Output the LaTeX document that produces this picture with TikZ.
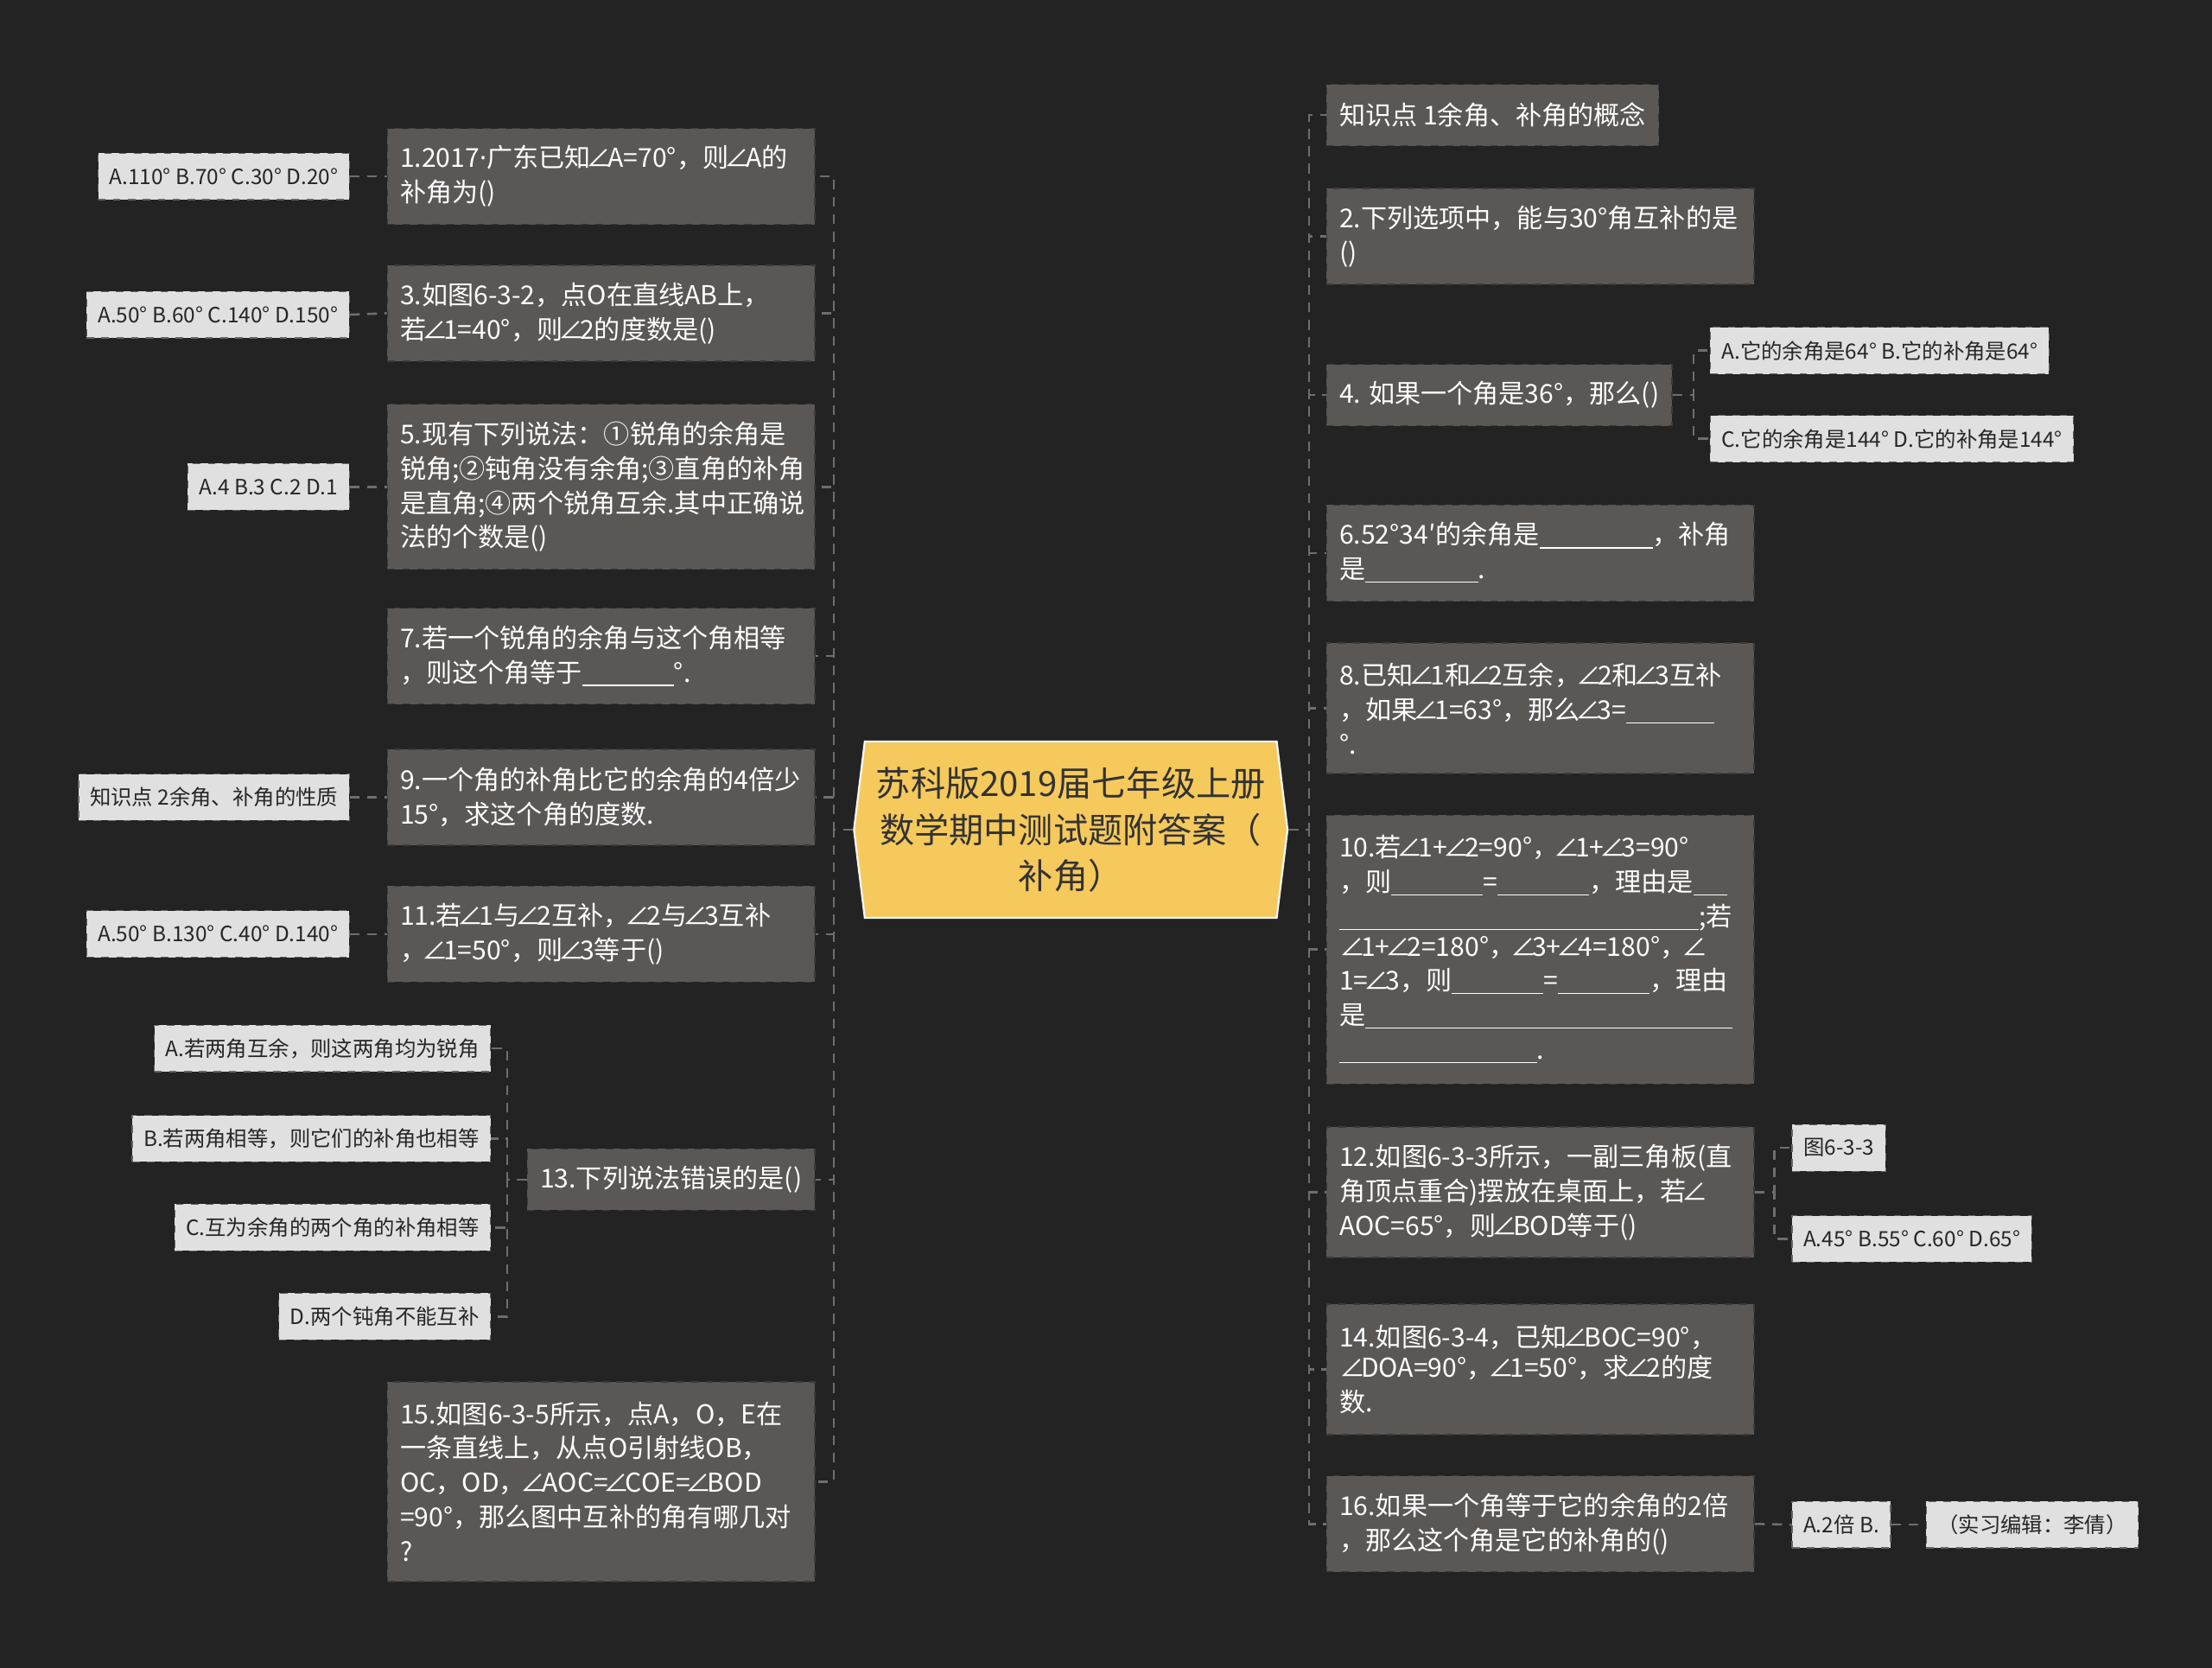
\documentclass[tikz,border=0pt]{standalone}
\usepackage{fontspec}
\setmainfont{Noto Sans CJK SC}
\newfontfamily\latinfont{Noto Sans}
\usetikzlibrary{shapes.symbols, calc}

\definecolor{bgdark}{HTML}{232323}
\definecolor{qfill}{HTML}{5A5755}
\definecolor{leaffill}{HTML}{E0E0E0}
\definecolor{hubfill}{HTML}{F5C95C}
\definecolor{linkgray}{HTML}{6E6E6E}

\newcommand{\fillblank}[1]{\underline{\hspace{#1}}}
\newcommand{\angsym}{\kern-0.17em∠\kern-0.17em}

\begin{document}
\begin{tikzpicture}[
  x=0.02cm, y=-0.02cm,
  hub/.style={signal, signal to=west and east, signal pointer angle=166, draw=white!92!gray, line width=0.8pt,
    fill=hubfill, text=black!80, align=center, text width=5.6cm, inner xsep=0.12cm, minimum height=2.5cm,
    font=\fontsize{14pt}{18.5pt}\selectfont},
  q/.style={draw=bgdark!55!qfill, dashed, line width=0.5pt, fill=qfill, text=white, align=left,
    inner xsep=0.18cm, inner ysep=0.18cm, minimum height=#1*0.49cm+0.38cm,
    font=\fontsize{10.5pt}{13.9pt}\selectfont},
  q/.default=1,
  qw/.style={q=#1, text width=5.7cm},
  qw/.default=1,
  leaf/.style={draw=black!60, dashed, line width=0.4pt, fill=leaffill, text=black!85,
    inner xsep=0.16cm, minimum height=0.66cm, font=\fontsize{8.5pt}{10pt}\selectfont},
  link/.style={draw=linkgray, line width=0.9pt, dash pattern=on 4pt off 3pt}
]

% page and background
\useasboundingbox (0,0) rectangle (1568,1182);
\fill[bgdark] (0,0) rectangle (1568,1182);

% central topic
\node[hub] (hub) at (759,588) {苏科版2019届七年级上册\\数学期中测试题附答案（\\补角）};

% left branch, questions
\node[qw=2, anchor=east] (q1) at (578,125) {1.2017{\latinfont ·}广东已知\angsym A=70°，则\angsym A的\\补角为()};
\node[qw=2, anchor=east] (q3) at (578,222) {3.如图6-3-2，点O在直线AB上，\\若\angsym 1=40°，则\angsym 2的度数是()};
\node[qw=4, anchor=east] (q5) at (578,345) {5.现有下列说法：①锐角的余角是\\锐角;②钝角没有余角;③直角的补角\\是直角;④两个锐角互余.其中正确说\\法的个数是()};
\node[qw=2, anchor=east] (q7) at (578,465) {7.若一个锐角的余角与这个角相等\\，则这个角等于\fillblank{1.3cm}°.};
\node[qw=2, anchor=east] (q9) at (578,565) {9.一个角的补角比它的余角的4倍少\\15°，求这个角的度数.};
\node[qw=2, anchor=east] (q11) at (578,662) {11.若\angsym 1与\angsym 2互补，\angsym 2与\angsym 3互补\\，\angsym 1=50°，则\angsym 3等于()};
\node[q, anchor=east] (q13) at (578,836) {13.下列说法错误的是()};
\node[qw=5, anchor=east] (q15) at (578,1050) {15.如图6-3-5所示，点A，O，E在\\一条直线上，从点O引射线OB，\\OC，OD，\angsym AOC=\angsym COE=\angsym BOD\\=90°，那么图中互补的角有哪几对\\?};

% left branch, answers
\node[leaf, anchor=east] (a1) at (248,125) {A.110° B.70° C.30° D.20°};
\node[leaf, anchor=east] (a3) at (248,223) {A.50° B.60° C.140° D.150°};
\node[leaf, anchor=east] (a5) at (248,345) {A.4 B.3 C.2 D.1};
\node[leaf, anchor=east] (a9) at (248,565) {知识点 2余角、补角的性质};
\node[leaf, anchor=east] (a11) at (248,662) {A.50° B.130° C.40° D.140°};
\node[leaf, anchor=east] (o1) at (348,743) {A.若两角互余，则这两角均为锐角};
\node[leaf, anchor=east] (o2) at (348,807) {B.若两角相等，则它们的补角也相等};
\node[leaf, anchor=east] (o3) at (348,870) {C.互为余角的两个角的补角相等};
\node[leaf, anchor=east] (o4) at (348,933) {D.两个钝角不能互补};

% right branch, questions
\node[q, anchor=west] (k1) at (940,81.5) {知识点 1余角、补角的概念};
\node[qw=2, anchor=west] (q2) at (940,167.5) {2.下列选项中，能与30°角互补的是\\()};
\node[q, anchor=west] (q4) at (940,280) {4. 如果一个角是36°，那么()};
\node[qw=2, anchor=west] (q6) at (940,392) {6.52°34′的余角是\fillblank{1.6cm}，补角\\是\fillblank{1.6cm}.};
\node[qw=3, anchor=west] (q8) at (940,502) {8.已知\angsym 1和\angsym 2互余，\angsym 2和\angsym 3互补\\，如果\angsym 1=63°，那么\angsym 3=\fillblank{1.25cm}\\°.};
\node[qw=7, anchor=west] (q10) at (940,673) {10.若\angsym 1+\angsym 2=90°，\angsym 1+\angsym 3=90°\\，则\fillblank{1.3cm}=\fillblank{1.3cm}，理由是\fillblank{0.48cm}\\\fillblank{5.1cm};若\\\angsym 1+\angsym 2=180°，\angsym 3+\angsym 4=180°，\angsym\\1=\angsym 3，则\fillblank{1.3cm}=\fillblank{1.3cm}，理由\\是\fillblank{5.2cm}\\\fillblank{2.8cm}.};
\node[qw=3, anchor=west] (q12) at (940,845) {12.如图6-3-3所示，一副三角板(直\\角顶点重合)摆放在桌面上，若\angsym\\AOC=65°，则\angsym BOD等于()};
\node[qw=3, anchor=west] (q14) at (940,970.5) {14.如图6-3-4，已知\angsym BOC=90°，\\\angsym DOA=90°，\angsym 1=50°，求\angsym 2的度\\数.};
\node[qw=2, anchor=west] (q16) at (940,1080) {16.如果一个角等于它的余角的2倍\\，那么这个角是它的补角的()};

% right branch, answers
\node[leaf, anchor=west] (b4a) at (1212,248.5) {A.它的余角是64° B.它的补角是64°};
\node[leaf, anchor=west] (b4c) at (1212,311) {C.它的余角是144° D.它的补角是144°};
\node[leaf, anchor=west] (b12a) at (1270,813.5) {图6-3-3};
\node[leaf, anchor=west] (b12b) at (1270,878) {A.45° B.55° C.60° D.65°};
\node[leaf, anchor=west] (b16a) at (1270,1080.5) {A.2倍 B.};
\node[leaf, anchor=west, minimum width=2.8cm] (b16b) at (1365,1080.5) {（实习编辑：李倩）};

% connectors
\coordinate (lt) at (591,588);
\coordinate (rt) at (928,588);
\foreach \n in {q1,q3,q5,q7,q9,q11,q13,q15}
  \draw[link] (hub.west) -- (lt) |- (\n.east);
\foreach \n in {k1,q2,q4,q6,q8,q10,q12,q14,q16}
  \draw[link] (hub.east) -- (rt) |- (\n.west);

\foreach \a/\n in {a1/q1,a3/q3,a5/q5,a9/q9,a11/q11}
  \draw[link] (\a.east) -- (\n.west);

\coordinate (c13) at ($(q13.west)+(-14,0)$);
\foreach \o in {o1,o2,o3,o4}
  \draw[link] (q13.west) -- (c13) |- (\o.east);

\coordinate (c4) at ($(q4.east)+(15,0)$);
\foreach \b in {b4a,b4c}
  \draw[link] (q4.east) -- (c4) |- (\b.west);

\coordinate (c12) at ($(q12.east)+(14,0)$);
\foreach \b in {b12a,b12b}
  \draw[link] (q12.east) -- (c12) |- (\b.west);

\draw[link] (q16.east) -- (b16a.west);
\draw[link] (b16a.east) -- (b16b.west);

\end{tikzpicture}
\end{document}
